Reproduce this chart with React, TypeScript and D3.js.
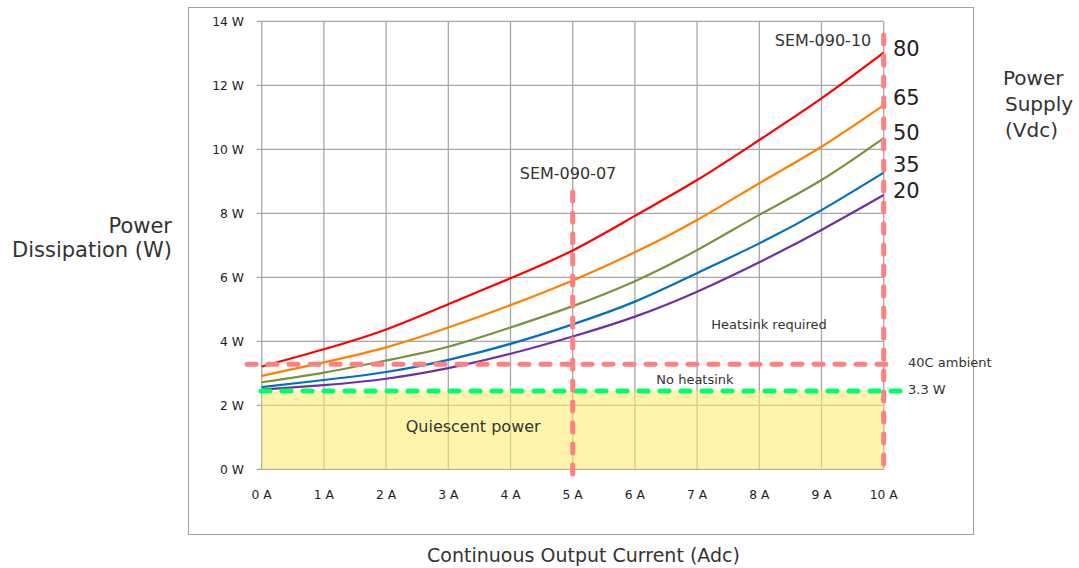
import React from "react";
import * as d3 from "d3";

const currents = [0, 1, 2, 3, 4, 5, 6, 7, 8, 9, 10];
const p80 = [3.21, 3.75, 4.37, 5.16, 5.97, 6.84, 7.92, 9.04, 10.29, 11.59, 13.02];
const p65 = [2.92, 3.34, 3.81, 4.43, 5.13, 5.9, 6.78, 7.79, 8.94, 10.08, 11.38];
const p50 = [2.72, 3.02, 3.4, 3.83, 4.43, 5.1, 5.88, 6.85, 7.95, 9.04, 10.35];
const p35 = [2.57, 2.79, 3.04, 3.42, 3.92, 4.53, 5.24, 6.13, 7.06, 8.1, 9.27];
const p20 = [2.49, 2.63, 2.83, 3.16, 3.61, 4.15, 4.77, 5.55, 6.47, 7.48, 8.57];
const voltages = ["80", "65", "50", "35", "20"];
const seriesColors = ["#ff0000", "#ff8000", "#77933c", "#0070c0", "#7030a0"];
const xTicks = [0, 1, 2, 3, 4, 5, 6, 7, 8, 9, 10];
const yTicks = [0, 2, 4, 6, 8, 10, 12, 14];
const quiescent = 2.45;
const ambientLimit = 3.28;
const modelCurrents = [5, 10];
const modelNames = ["SEM-090-07", "SEM-090-10"];

const series = [p80, p65, p50, p35, p20];
const voltLabelY = [13.02, 11.5, 10.4, 9.4, 8.6];

export default function App() {
  const x = d3.scaleLinear().domain([0, 10]).range([261.7, 883.7]);
  const y = d3.scaleLinear().domain([0, 14]).range([469.3, 21.3]);
  const line = d3
    .line<number>()
    .x((_, i) => x(currents[i]))
    .y((d) => y(d))
    .curve(d3.curveNatural);
  const font = "'DejaVu Sans', Verdana, sans-serif";
  const grid = "#a6a6a6";
  const dash = "9 12";

  return (
    <svg
      width={1079}
      height={568}
      style={{ position: "absolute", left: 0, top: 0, background: "#fff" }}
      fontFamily={font}
    >
      <rect x={188.5} y={7.5} width={785} height={527} fill="#fff" stroke="#a0a0a0" strokeWidth={1} />

      {/* grid */}
      {yTicks.map((t) => (
        <line key={"gy" + t} x1={x(0) - 5} x2={x(10)} y1={y(t)} y2={y(t)} stroke={grid} strokeWidth={1.3} />
      ))}
      {xTicks.map((t) => (
        <line key={"gx" + t} x1={x(t)} x2={x(t)} y1={y(14)} y2={y(0)} stroke={grid} strokeWidth={1.3} />
      ))}

      {/* quiescent area */}
      <rect
        x={x(0)}
        y={y(quiescent)}
        width={x(10) - x(0)}
        height={y(0) - y(quiescent)}
        fill="#ffeb66"
        fillOpacity={0.55}
      />
      <text x={x(3.4)} y={432} fontSize={16} textAnchor="middle" fill="#333">
        Quiescent power
      </text>

      {/* tick labels */}
      {yTicks.map((t) => (
        <text key={"ly" + t} x={244} y={y(t) + 4.5} fontSize={12.3} textAnchor="end" fill="#222">
          {t} W
        </text>
      ))}
      {xTicks.map((t) => (
        <text key={"lx" + t} x={x(t)} y={499} fontSize={12.3} textAnchor="middle" fill="#222">
          {t} A
        </text>
      ))}

      {/* curves */}
      {series.map((s, i) => (
        <path key={"s" + i} d={line(s) || ""} fill="none" stroke={seriesColors[i]} strokeWidth={2.2} />
      ))}

      {/* limit lines */}
      <line
        x1={247}
        x2={898}
        y1={y(ambientLimit)}
        y2={y(ambientLimit)}
        stroke="#ff8080"
        strokeWidth={5}
        strokeDasharray={dash}
        strokeLinecap="round"
      />
      <line
        x1={261}
        x2={900}
        y1={y(quiescent)}
        y2={y(quiescent)}
        stroke="#00ff66"
        strokeWidth={5}
        strokeDasharray={dash}
        strokeLinecap="round"
      />
      <line
        x1={x(modelCurrents[0])}
        x2={x(modelCurrents[0])}
        y1={192}
        y2={476}
        stroke="#ff8080"
        strokeWidth={5}
        strokeDasharray={dash}
        strokeLinecap="round"
      />
      <line
        x1={x(modelCurrents[1])}
        x2={x(modelCurrents[1])}
        y1={35}
        y2={476}
        stroke="#ff8080"
        strokeWidth={5}
        strokeDasharray={dash}
        strokeLinecap="round"
      />

      {/* annotations */}
      <text x={568} y={179} fontSize={16} textAnchor="middle" fill="#333">
        {modelNames[0]}
      </text>
      <text x={823} y={46} fontSize={16} textAnchor="middle" fill="#333">
        {modelNames[1]}
      </text>
      <text x={769} y={329} fontSize={13} textAnchor="middle" fill="#333">
        Heatsink required
      </text>
      <text x={695} y={384} fontSize={13} textAnchor="middle" fill="#333">
        No heatsink
      </text>
      <text x={908} y={367} fontSize={13} fill="#333">
        40C ambient
      </text>
      <text x={908} y={394} fontSize={13} fill="#333">
        3.3 W
      </text>

      {/* voltage labels */}
      {voltages.map((v, i) => (
        <text key={"v" + v} x={893} y={y(voltLabelY[i]) + 3.5} fontSize={21} fill="#222">
          {v}
        </text>
      ))}

      {/* axis titles */}
      <text x={172} y={233} fontSize={21} textAnchor="end" fill="#333">
        Power
      </text>
      <text x={172} y={257} fontSize={21} textAnchor="end" fill="#333">
        Dissipation (W)
      </text>
      <text x={1003} y={85} fontSize={20} fill="#333">
        Power
      </text>
      <text x={1005} y={111} fontSize={20} fill="#333">
        Supply
      </text>
      <text x={1005} y={137} fontSize={20} fill="#333">
        (Vdc)
      </text>
      <text x={583.5} y={562} fontSize={19} textAnchor="middle" fill="#333">
        Continuous Output Current (Adc)
      </text>
    </svg>
  );
}
